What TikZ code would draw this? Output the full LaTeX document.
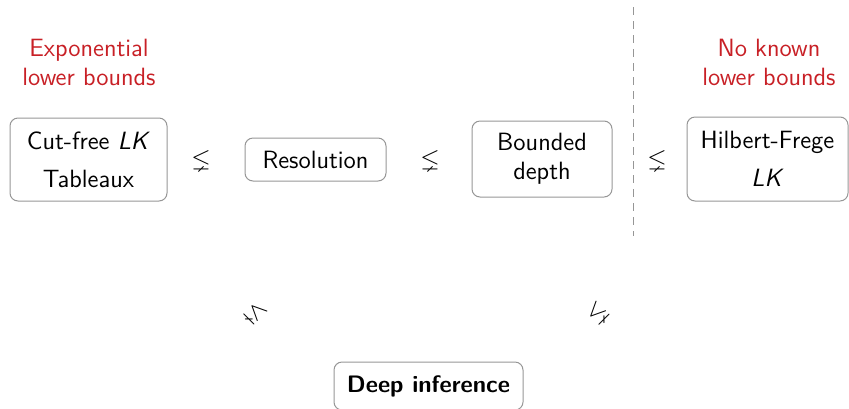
\documentclass[tikz,border=0pt]{standalone}
\usepackage{amssymb}
\definecolor{hdred}{RGB}{200,32,38}
\definecolor{boxgray}{RGB}{150,150,150}
\begin{document}
\begin{tikzpicture}[x=0.5pt,y=-0.5pt,
  font=\sffamily\fontsize{12.5}{14.5}\selectfont,
  box/.style={draw=boxgray, line width=0.5pt, rounded corners=4pt, align=center, inner sep=0pt},
  rel/.style={inner sep=0pt},
  note/.style={text=hdred, align=center, inner sep=0pt},
  sep/.style={draw=boxgray, line width=0.5pt, dash pattern=on 4pt off 3pt}]
\useasboundingbox (0,0) rectangle (849,408);
% notes
\node[note] (n1) at (89,62) {Exponential\\lower bounds};
\node[note] (n2) at (769,62) {No known\\lower bounds};
% boxes
\node[box, minimum width=78.5pt, minimum height=41.5pt] (cf) at (88.5,159.5) {Cut-free \textit{LK}\\[4.5pt]Tableaux};
\node[box, minimum width=70.5pt, minimum height=21.5pt] (res) at (315.5,159.5) {Resolution};
\node[box, minimum width=70pt, minimum height=38pt] (bd) at (542,159) {Bounded\\depth};
\node[box, minimum width=80.5pt, minimum height=42pt] (hf) at (767.5,159) {Hilbert-Frege\\[4.5pt]\textit{LK}};
\node[box, minimum width=94.5pt, minimum height=24pt, font=\sffamily\bfseries\fontsize{11.9}{14}\selectfont] (di) at (428.5,386) {Deep inference};
% relations
\node[rel] (r1) at (201,160) {$\lneq$};
\node[rel] (r2) at (430,160) {$\lneq$};
\node[rel] (r3) at (657,160) {$\lneq$};
\node[rel, rotate=-45] (r4) at (256,313) {$\lneq$};
\node[rel, rotate=45] (r5) at (598,313) {$\lneq$};
% separator
\coordinate (st) at (633,7);
\coordinate (sb) at (633,236);
\draw[sep] (st) -- (sb);
\end{tikzpicture}
\end{document}
